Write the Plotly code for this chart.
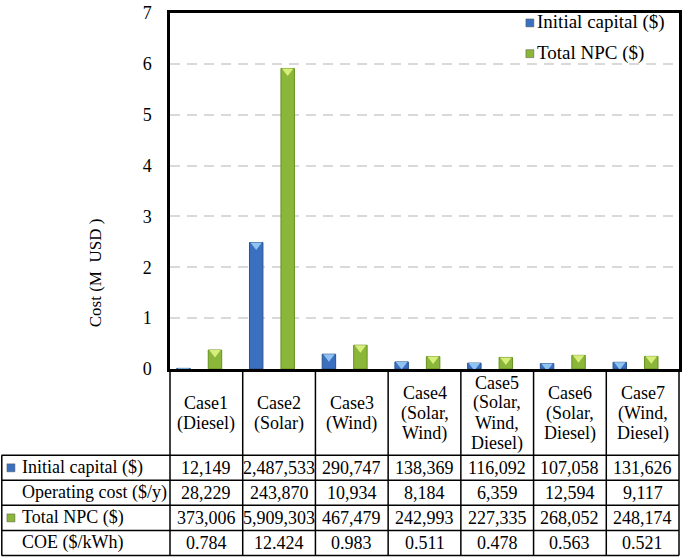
import plotly.graph_objects as go

# ---------------- data ----------------
cases = ["Case1<br>(Diesel)", "Case2<br>(Solar)", "Case3<br>(Wind)",
         "Case4<br>(Solar,<br>Wind)", "Case5<br>(Solar,<br>Wind,<br>Diesel)",
         "Case6<br>(Solar,<br>Diesel)", "Case7<br>(Wind,<br>Diesel)"]
initial_capital = [12149, 2487533, 290747, 138369, 116092, 107058, 131626]
operating_cost = [28229, 243870, 10934, 8184, 6359, 12594, 9117]
total_npc = [373006, 5909303, 467479, 242993, 227335, 268052, 248174]
coe = [0.784, 12.424, 0.983, 0.511, 0.478, 0.563, 0.521]
row_labels = ["Initial capital ($)", "Operating cost ($/y)", "Total NPC ($)", "COE ($/kWh)"]
y_ticks = [0, 1, 2, 3, 4, 5, 6, 7]

# ---------------- style / layout constants ----------------
W, H = 685, 560
L, R, T, B = 170, 682, 10, 369          # plot frame in pixels
FONT = "Liberation Serif, Times New Roman, serif"
FS = 18
BLUE, BLUE_LINE, BLUE_TOP = "#3b70c0", "#2a548f", "#8fc3f2"
GREEN, GREEN_LINE, GREEN_TOP = "#8ab73a", "#66901f", "#d8ee7c"
BAR_W = 0.185
OFF_BLUE, OFF_GREEN = -0.407, 0.026
YMAX = 7
PX_PER_UNIT = (B - T) / YMAX
HEAD_CY, HEAD_LS = 413.5, 20.5


def xp(px):
    return (px - L) / (R - L)


def yp(py):
    return (B - py) / (B - T)


x = list(range(len(cases)))
cap_m = [v / 1e6 for v in initial_capital]
npc_m = [v / 1e6 for v in total_npc]

fig = go.Figure()
fig.add_trace(go.Bar(x=x, y=cap_m, width=BAR_W, offset=OFF_BLUE, name="Initial capital ($)",
                     marker=dict(color=BLUE, line=dict(color=BLUE_LINE, width=1)), showlegend=False))
fig.add_trace(go.Bar(x=x, y=npc_m, width=BAR_W, offset=OFF_GREEN, name="Total NPC ($)",
                     marker=dict(color=GREEN, line=dict(color=GREEN_LINE, width=1)), showlegend=False))

# bevel triangles on bar tops
TRI = 10
drop = (TRI / 4) / PX_PER_UNIT
for vals, off, col in [(cap_m, OFF_BLUE, BLUE_TOP), (npc_m, OFF_GREEN, GREEN_TOP)]:
    fig.add_trace(go.Scatter(x=[i + off + BAR_W / 2 for i in x], y=[v - drop for v in vals],
                             mode="markers", hoverinfo="skip", showlegend=False, cliponaxis=True,
                             marker=dict(symbol="triangle-down", size=TRI, color=col, line=dict(width=0))))

shapes = []
annotations = []


def hline(py, x0, x1, w=1.5):
    shapes.append(dict(type="line", xref="paper", yref="paper", x0=xp(x0), x1=xp(x1),
                       y0=yp(py), y1=yp(py), line=dict(color="black", width=w)))


def vline(px, y0, y1, w=1.5):
    shapes.append(dict(type="line", xref="paper", yref="paper", x0=xp(px), x1=xp(px),
                       y0=yp(y0), y1=yp(y1), line=dict(color="black", width=w)))


def square(px, py, col, s=8):
    shapes.append(dict(type="rect", xref="paper", yref="paper", x0=xp(px), x1=xp(px + s),
                       y0=yp(py + s / 2), y1=yp(py - s / 2), fillcolor=col,
                       line=dict(color="#555555", width=0.5)))


def text(px, py, s, anchor="center", size=FS, angle=0):
    annotations.append(dict(x=xp(px), y=yp(py), xref="paper", yref="paper", text=s,
                            showarrow=False, xanchor=anchor, yanchor="middle", textangle=angle,
                            font=dict(family=FONT, size=size, color="black")))


# table geometry
rows_y = [456, 481.3, 506.5, 531.8, 557]
ncol = len(cases)
colw = (R - L) / ncol
col_x = [L + colw * i for i in range(ncol + 1)]

for py in rows_y:
    hline(py, 0.5, R)
vline(0.8, rows_y[0], rows_y[-1])
for cx in col_x:
    vline(cx, B, rows_y[-1])

for i, c in enumerate(cases):
    lines = c.split("<br>")
    n = len(lines)
    for k, ln in enumerate(lines):
        text(col_x[i] + colw / 2, HEAD_CY + (k - (n - 1) / 2) * HEAD_LS, ln)

table_rows = [
    [f"{v:,}" for v in initial_capital],
    [f"{v:,}" for v in operating_cost],
    [f"{v:,}" for v in total_npc],
    [f"{v:.3f}" for v in coe],
]
for r, vals in enumerate(table_rows):
    cy = (rows_y[r] + rows_y[r + 1]) / 2
    text(19, cy, row_labels[r], anchor="left")
    for i, s in enumerate(vals):
        text(col_x[i] + colw / 2, cy, s)

square(6, (rows_y[0] + rows_y[1]) / 2, BLUE)
square(6, (rows_y[2] + rows_y[3]) / 2, GREEN)

# legend (inside the plot, top right)
square(528, 20, BLUE)
text(537, 19, "Initial capital ($)", anchor="left", size=19)
square(528, 51, GREEN)
text(537, 50, "Total NPC ($)", anchor="left", size=19)

# axis title
text(95, 272, "Cost (M  USD )", size=17, angle=-90)

fig.update_layout(
    width=W, height=H,
    margin=dict(l=L, r=W - R, t=T, b=H - B),
    paper_bgcolor="white", plot_bgcolor="white",
    font=dict(family=FONT, size=FS, color="black"),
    barmode="overlay",
    shapes=shapes, annotations=annotations,
    xaxis=dict(range=[-0.5, ncol - 0.5], showticklabels=False, showgrid=False, zeroline=False,
               showline=True, linecolor="black", linewidth=2.5, mirror=True, ticks=""),
    yaxis=dict(range=[0, YMAX], tickvals=y_ticks, showgrid=True, gridcolor="#d9d9d9", gridwidth=2,
               griddash="10px,7px", zeroline=False, showline=True, linecolor="black", linewidth=2.5,
               mirror=True, ticks="", ticklabelstandoff=12,
               tickfont=dict(family=FONT, size=FS, color="black")),
)

fig.write_html("out.html", config={"displayModeBar": False},
               post_script="document.body.style.margin='0';document.body.style.overflow='hidden';")
